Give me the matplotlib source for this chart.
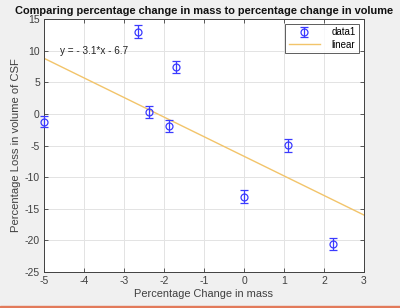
import matplotlib
matplotlib.use("Agg")
import matplotlib.pyplot as plt
import numpy as np
from matplotlib.patches import Rectangle

mass_change = [-5.0, -2.65, -2.38, -1.88, -1.7, 0.0, 1.1, 2.22]
csf_loss = [-1.2, 13.0, 0.3, -1.9, 7.4, -13.1, -4.95, -20.6]
err = [0.8, 1.0, 1.0, 1.0, 1.0, 1.0, 1.0, 1.0]
slope, intercept = -3.1, -6.7
fit_x = [-5, 3]
xticks = [-5, -4, -3, -2, -1, 0, 1, 2, 3]
yticks = [-25, -20, -15, -10, -5, 0, 5, 10, 15]

plt.rcParams['font.family'] = ['Liberation Sans', 'DejaVu Sans']
plt.rcParams['axes.unicode_minus'] = False
fig = plt.figure(figsize=(4.0, 3.08), dpi=100)
fig.patch.set_facecolor('#f0f0f0')
ax = fig.add_axes([0.11, 0.117, 0.80, 0.821])
ax.set_facecolor('white')

eb = ax.errorbar(mass_change, csf_loss, yerr=err, fmt='o', color='#3a3aff',
                 mfc='none', ms=5, mew=0.9, elinewidth=0.9, capsize=3, capthick=0.9,
                 label='data1', zorder=3, clip_on=False)
fx = np.array(fit_x, dtype=float)
ln, = ax.plot(fx, slope * fx + intercept, color='#f2c46a', lw=1.0, label='linear', zorder=2)

ax.text(-4.6, 10, 'y = - 3.1*x - 6.7', fontsize=7.2, color='#222222', va='center', ha='left')

ax.set_xlim(-5, 3)
ax.set_ylim(-25, 15)
ax.set_xticks(xticks)
ax.set_yticks(yticks)
ax.grid(True, color='#e3e3e3', lw=0.7)
ax.set_axisbelow(True)
ax.tick_params(direction='in', labelsize=7.5, colors='#404040', length=3, width=0.6,
               top=True, right=True, pad=3)
for s in ax.spines.values():
    s.set_color('#404040')
    s.set_linewidth(0.7)

ax.set_title('Comparing percentage change in mass to percentage change in volume',
             fontsize=7.9, fontweight='bold', pad=4, color='#111111')
ax.set_xlabel('Percentage Change in mass', fontsize=7.9, color='#404040', labelpad=2)
ax.set_ylabel('Percentage Loss in volume of CSF', fontsize=8.1, color='#404040', labelpad=3)

leg = ax.legend([eb, ln], ['data1', 'linear'], loc='upper right', fontsize=7,
                frameon=True, fancybox=False, edgecolor='#333333',
                borderaxespad=0.5, handlelength=3.2, handletextpad=1.2,
                borderpad=0.35, labelspacing=0.25)
leg.get_frame().set_linewidth(0.7)

fig.patches.append(Rectangle((0, 0), 1, 0.008, transform=fig.transFigure,
                             color='#e27a5a', zorder=0))

fig.savefig('out.png', dpi=100, facecolor=fig.get_facecolor())
